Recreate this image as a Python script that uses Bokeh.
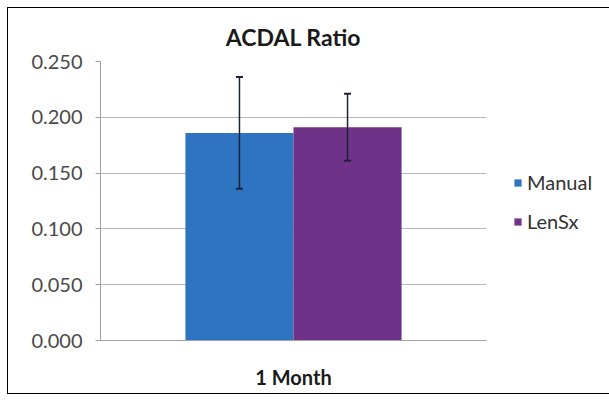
from bokeh.plotting import figure
from bokeh.models import ColumnDataSource, FactorRange, Whisker, TeeHead, Legend, LegendItem, NumeralTickFormatter, FixedTicker
from bokeh.transform import dodge
from bokeh.embed import file_html
from bokeh.resources import INLINE

title = "ACDAL Ratio"
categories = ["1 Month"]
series = ["Manual", "LenSx"]
manual_mean = [0.186]
manual_err = [0.050]
lensx_mean = [0.191]
lensx_err = [0.030]
y_ticks = [0.0, 0.05, 0.10, 0.15, 0.20, 0.25]

colors = {"Manual": "#2f74c0", "LenSx": "#6e3388"}
FONT = "Lato"

p = figure(x_range=FactorRange(*categories), y_range=(0, 0.25),
           frame_width=386, frame_height=279, output_backend="svg", toolbar_location=None,
           min_border_left=92, min_border_right=116, min_border_top=53, min_border_bottom=53)
p.styles = {"margin-left": "8px", "margin-top": "8px", "outline": "1.5px solid #000"}
p.outline_line_color = None

src_m = ColumnDataSource(dict(x=categories, y=manual_mean,
                              upper=[m + e for m, e in zip(manual_mean, manual_err)],
                              lower=[m - e for m, e in zip(manual_mean, manual_err)]))
src_l = ColumnDataSource(dict(x=categories, y=lensx_mean,
                              upper=[m + e for m, e in zip(lensx_mean, lensx_err)],
                              lower=[m - e for m, e in zip(lensx_mean, lensx_err)]))

rm = p.vbar(x=dodge("x", -0.14, range=p.x_range), top="y", width=0.28, source=src_m,
            fill_color=colors["Manual"], line_color=None)
rl = p.vbar(x=dodge("x", 0.14, range=p.x_range), top="y", width=0.28, source=src_l,
            fill_color=colors["LenSx"], line_color=None)

for src, off in ((src_m, -0.14), (src_l, 0.14)):
    w = Whisker(base=dodge("x", off, range=p.x_range), upper="upper", lower="lower", source=src,
                line_color="#1c2236", line_width=1.5, level="overlay",
                upper_head=TeeHead(size=7, line_color="#1c2236", line_width=2),
                lower_head=TeeHead(size=7, line_color="#1c2236", line_width=2))
    p.add_layout(w)

p.title.text = title
p.title.align = "center"
p.title.vertical_align = "top"
p.title.text_font = FONT
p.title.text_font_size = "23px"
p.title.text_font_style = "bold"
p.title.text_color = "#1a1a1a"
p.title.standoff = 17

p.xgrid.grid_line_color = None
p.ygrid.grid_line_color = "#b8b8b8"
p.ygrid.grid_line_width = 1.2

p.yaxis.ticker = FixedTicker(ticks=y_ticks)
p.yaxis.formatter = NumeralTickFormatter(format="0.000")
p.yaxis.axis_line_color = "#a0a0a0"
p.yaxis.major_tick_line_color = "#a0a0a0"
p.yaxis.major_tick_out = 5
p.yaxis.major_tick_in = 0
p.yaxis.minor_tick_line_color = None
p.yaxis.major_label_text_font = FONT
p.yaxis.major_label_text_font_size = "20px"
p.yaxis.major_label_text_color = "#4a4a4a"
p.yaxis.major_label_standoff = 13

p.xaxis.axis_line_color = "#a0a0a0"
p.xaxis.major_tick_line_color = None
p.xaxis.major_label_text_font = FONT
p.xaxis.major_label_text_font_size = "20px"
p.xaxis.major_label_text_font_style = "bold"
p.xaxis.major_label_text_color = "#1a1a1a"
p.xaxis.major_label_standoff = 18

legend = Legend(items=[LegendItem(label=series[0], renderers=[rm]),
                       LegendItem(label=series[1], renderers=[rl])],
                location=(27, 107), orientation="vertical",
                glyph_width=9, glyph_height=9, label_height=20, spacing=15, padding=0,
                margin=0, border_line_color=None, background_fill_alpha=0,
                label_text_font=FONT, label_text_font_size="20px", label_text_color="#333333",
                label_standoff=5)
p.add_layout(legend, "right")

open("out.html", "w").write(file_html(p, INLINE))
